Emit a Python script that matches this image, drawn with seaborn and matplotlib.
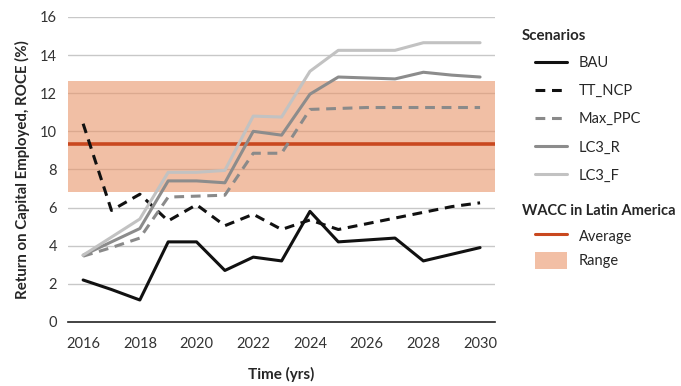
import numpy as np
import pandas as pd
import matplotlib
matplotlib.use("Agg")
import matplotlib.pyplot as plt
import seaborn as sns
from matplotlib.lines import Line2D
from matplotlib.patches import Patch

# ── Data ──────────────────────────────────────────────────────
years = list(range(2016, 2031))
bau     = [2.2, 1.7, 1.15, 4.2, 4.2, 2.7, 3.4, 3.2, 5.8, 4.2, 4.3, 4.4, 3.2, 3.55, 3.9]
tt_ncp  = [10.4, 5.85, 6.7, 5.3, 6.15, 5.05, 5.65, 4.85, 5.35, 4.85, 5.15, 5.45, 5.75, 6.05, 6.25]
max_ppc = [3.45, 3.9, 4.4, 6.55, 6.6, 6.65, 8.85, 8.85, 11.15, 11.2, 11.25, 11.25, 11.25, 11.25, 11.25]
lc3_r   = [3.5, 4.2, 4.9, 7.4, 7.4, 7.3, 10.0, 9.8, 11.95, 12.85, 12.8, 12.75, 13.1, 12.95, 12.85]
lc3_f   = [3.5, 4.45, 5.4, 7.85, 7.85, 7.95, 10.8, 10.75, 13.15, 14.25, 14.25, 14.25, 14.65, 14.65, 14.65]

scenarios = ["BAU", "TT_NCP", "Max_PPC", "LC3_R", "LC3_F"]
wacc_avg = 9.35
wacc_low, wacc_high = 6.8, 12.65

df = pd.DataFrame({
    "year": years * 5,
    "roce": bau + tt_ncp + max_ppc + lc3_r + lc3_f,
    "scenario": np.repeat(scenarios, len(years)),
})

palette = {"BAU": "#111111", "TT_NCP": "#111111", "Max_PPC": "#8a8a8a",
           "LC3_R": "#8c8c8c", "LC3_F": "#c2c2c2"}
dashes = {"BAU": "", "TT_NCP": (3.2, 2.2), "Max_PPC": (3.2, 2.2),
          "LC3_R": "", "LC3_F": ""}

# ── Plot ─────────────────────────────────────────────────────
sns.set_style("white")
plt.rcParams["font.family"] = ["Lato", "DejaVu Sans"]

fig = plt.figure(figsize=(6.81, 3.86), dpi=100)
ax = fig.add_axes([0.10, 0.166, 0.627, 0.79])

for yv in range(2, 17, 2):
    ax.axhline(yv, color="#c8c8c8", lw=1.0, zorder=0)
ax.axhspan(wacc_low, wacc_high, color="#e9956a", alpha=0.6, lw=0, zorder=1)
ax.axhline(wacc_avg, color="#c9481f", lw=2.6, zorder=2)

sns.lineplot(data=df, x="year", y="roce", hue="scenario", style="scenario",
             palette=palette, dashes=dashes, lw=2.2, ax=ax, legend=False, zorder=3)

ax.set_xlim(2015.47, 2030.53)
ax.set_ylim(0, 16)
ax.set_xticks(range(2016, 2031, 2))
ax.set_yticks(range(0, 17, 2))
ax.tick_params(axis="both", labelsize=10.5, colors="#333333", length=0, pad=6)
ax.tick_params(axis="y", length=3, color="#bbbbbb", pad=5)
ax.tick_params(axis="x", pad=11)
for s in ["top", "right", "left"]:
    ax.spines[s].set_visible(False)
ax.spines["bottom"].set_color("#222222")
ax.spines["bottom"].set_linewidth(1.2)

ax.set_xlabel("Time (yrs)", fontsize=11, fontweight="bold", labelpad=11)
ax.set_ylabel("Return on Capital Employed, ROCE (%)", fontsize=10.8,
              fontweight="bold", labelpad=7)

# ── Legends ──────────────────────────────────────────────────
handles = []
for s in scenarios:
    h = Line2D([0], [0], color=palette[s], lw=2.2)
    if dashes[s]:
        h.set_linestyle("--")
        h.set_dashes(dashes[s])
    handles.append(h)

fig.text(522 / 681, 1 - 36 / 386, "Scenarios", fontsize=10.8, fontweight="bold",
         va="center", ha="left")
fig.legend(handles, scenarios, loc="upper left", bbox_to_anchor=(535 / 681, 0.855),
           frameon=False, fontsize=10.5, handlelength=2.2, labelspacing=0.97,
           handletextpad=0.8, borderpad=0, borderaxespad=0)

fig.text(522 / 681, 1 - 210.5 / 386, "WACC in Latin America", fontsize=10.5,
         fontweight="bold", va="center", ha="left")
h2 = [Line2D([0], [0], color="#c9481f", lw=2.2),
      Patch(facecolor="#f2bfa5", edgecolor="none")]
fig.legend(h2, ["Average", "Range"], loc="upper left",
           bbox_to_anchor=(535 / 681, 0.41), frameon=False, fontsize=10.5,
           handlelength=2.2, handleheight=1.35, labelspacing=0.55,
           handletextpad=0.8, borderpad=0, borderaxespad=0)

fig.savefig("out.png", dpi=100)
